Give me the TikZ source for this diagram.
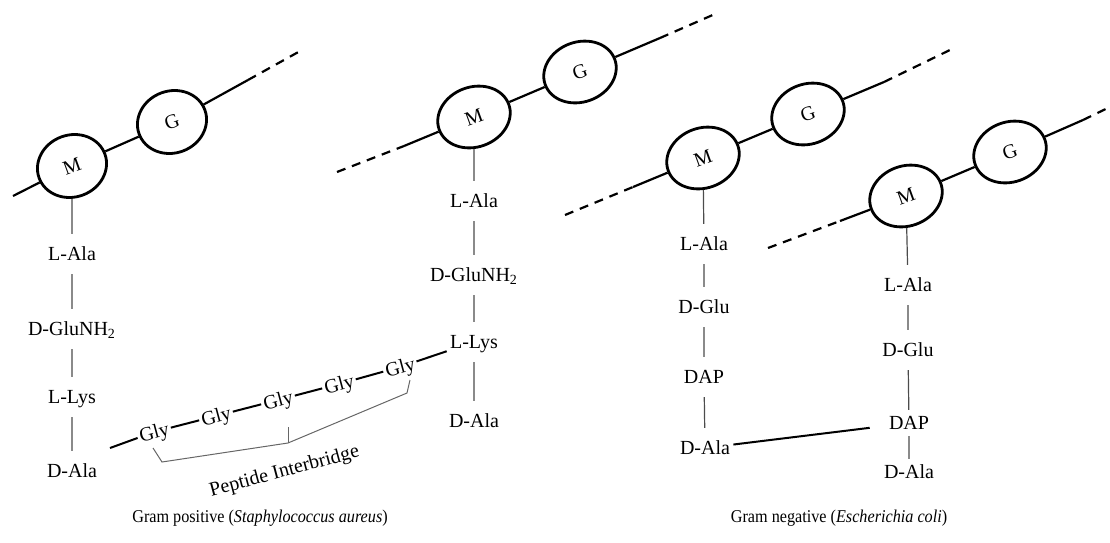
\documentclass[tikz,border=0pt]{standalone}
\usepackage{fontspec}
\setmainfont{Liberation Serif}
\usetikzlibrary{shapes.geometric}
\tikzset{
  sugar/.style={ellipse, draw, line width=1.4pt, minimum width=37pt, minimum height=30pt,
                inner sep=0pt, rotate=20, font=\fontsize{10}{12}\selectfont},
  sugarr/.style={sugar, minimum width=35pt, minimum height=31pt},
  chain/.style={line width=1.1pt},
  chaind/.style={chain, dash pattern=on 4.5pt off 3.5pt},
  amino/.style={inner xsep=1.5pt, inner ysep=6.5pt, text height=6.8pt, text depth=0pt,
                font=\fontsize{10}{12}\selectfont},
  aminot/.style={amino, inner ysep=3pt},
  gly/.style={amino, inner ysep=1pt, inner xsep=1pt, rotate=15},
  stem/.style={line width=0.6pt, draw=black!70},
  bridge/.style={line width=1pt},
  brace/.style={line width=0.5pt, draw=black!60},
  capt/.style={font=\fontsize{9}{11}\selectfont},
}
\newcommand{\captext}[1]{\scalebox{0.9}[1]{#1}}
\begin{document}
\begin{tikzpicture}[x=0.5pt, y=-0.5pt]
  \useasboundingbox (0,0) rectangle (1110,542);
  % Gram positive, first strand
  \node[sugarr] (m1) at (72,166) {M};
  \node[sugarr] (g1) at (172,122) {G};
  \coordinate (s1a) at (13,196);
  \coordinate (s1b) at (248,80);
  \coordinate (s1c) at (302,50);
  \draw[chain] (s1a) -- (m1) -- (g1) -- (s1b);
  \draw[chaind] (s1b) -- (s1c);
  \node[amino] (ala1) at (72,254) {L-Ala};
  \node[amino] (glu1) at (72,329) {D-GluNH\textsubscript{2}};
  \node[amino] (lys1) at (72,397) {L-Lys};
  \node[amino] (dal1) at (72,471) {D-Ala};
  \draw[stem] (m1) -- (ala1) -- (glu1) -- (lys1) -- (dal1);
  % Gram positive, second strand
  \node[sugar] (m2) at (474,117) {M};
  \node[sugar] (g2) at (580,72) {G};
  \coordinate (s2a) at (337,172);
  \coordinate (s2b) at (404,146);
  \coordinate (s2c) at (660,38);
  \coordinate (s2d) at (715,14);
  \draw[chaind] (s2a) -- (s2b);
  \draw[chain] (s2b) -- (m2) -- (g2) -- (s2c);
  \draw[chaind] (s2c) -- (s2d);
  \node[amino] (ala2) at (474,201) {L-Ala};
  \node[amino] (glu2) at (474,275) {D-GluNH\textsubscript{2}};
  \node[amino] (lys2) at (474,342) {L-Lys};
  \node[amino] (dal2) at (474,421) {D-Ala};
  \draw[stem] (m2) -- (ala2) -- (glu2) -- (lys2) -- (dal2);
  % peptide interbridge
  \coordinate (gly0) at (110,448);
  \node[gly] (gly1) at (154,432) {Gly};
  \node[gly] (gly2) at (216,416) {Gly};
  \node[gly] (gly3) at (278,400) {Gly};
  \node[gly] (gly4) at (339,384) {Gly};
  \node[gly] (gly5) at (400,367) {Gly};
  \draw[bridge] (gly0) -- (gly1) -- (gly2) -- (gly3) -- (gly4) -- (gly5) -- (lys2);
  \draw[brace] (153,448) -- (162,462) -- (288,443) -- (407,393) -- (410,380);
  \draw[brace] (288,443) -- (288,427);
  \node[amino, inner sep=1pt, rotate=15] (pib) at (284,470) {Peptide Interbridge};
  % Gram negative, first strand
  \node[sugar] (m3) at (703,158) {M};
  \node[sugar] (g3) at (808,114) {G};
  \coordinate (s3a) at (565,215);
  \coordinate (s3b) at (633,187);
  \coordinate (s3c) at (884,82);
  \coordinate (s3d) at (952,49);
  \draw[chaind] (s3a) -- (s3b);
  \draw[chain] (s3b) -- (m3) -- (g3) -- (s3c);
  \draw[chaind] (s3c) -- (s3d);
  \node[amino] (ala3) at (704,244) {L-Ala};
  \node[amino] (glu3) at (704,307) {D-Glu};
  \node[amino] (dap3) at (704,377) {DAP};
  \node[amino] (dal3) at (705,448) {D-Ala};
  \draw[stem] (m3) -- (ala3) -- (glu3) -- (dap3) -- (dal3);
  % Gram negative, second strand
  \node[sugar] (m4) at (906,196) {M};
  \node[sugar] (g4) at (1010,152) {G};
  \coordinate (s4a) at (768,248);
  \coordinate (s4b) at (840,221);
  \coordinate (s4c) at (1083,120);
  \coordinate (s4d) at (1114,105);
  \draw[chaind] (s4a) -- (s4b);
  \draw[chain] (s4b) -- (m4) -- (g4) -- (s4c);
  \draw[chaind] (s4c) -- (s4d);
  \node[amino] (ala4) at (908,285) {L-Ala};
  \node[amino] (glu4) at (908,350) {D-Glu};
  \node[aminot] (dap4) at (909,423) {DAP};
  \node[aminot] (dal4) at (909,472) {D-Ala};
  \draw[stem] (m4) -- (ala4) -- (glu4) -- (dap4) -- (dal4);
  % cross-link
  \draw[bridge, shorten >=8pt] (dal3) -- (dap4);
  % captions
  \node[capt] (capp) at (260,518) {\captext{Gram positive (\textit{Staphylococcus aureus})}};
  \node[capt] (capn) at (839,518) {\captext{Gram negative (\textit{Escherichia coli})}};
\end{tikzpicture}
\end{document}
